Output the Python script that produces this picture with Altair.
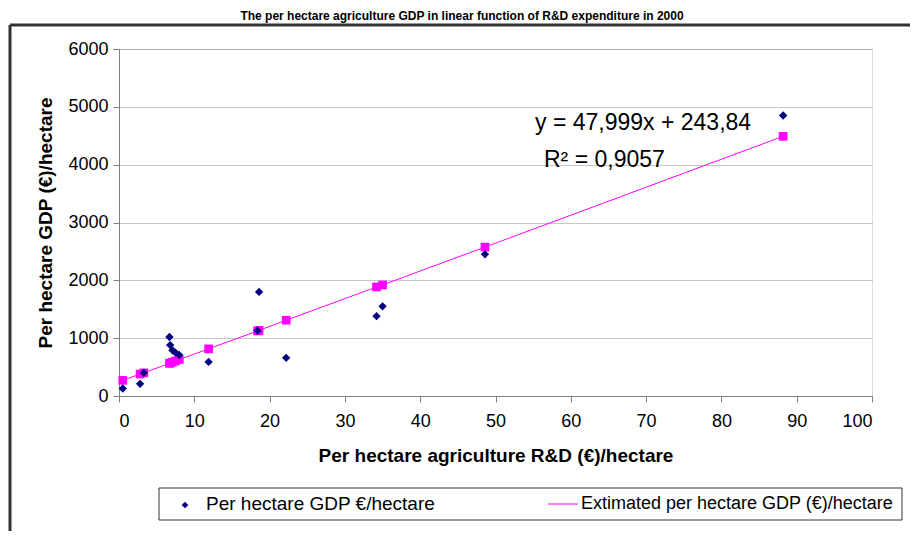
import altair as alt
import pandas as pd

# ---- data ----
rd_per_ha = [0.5, 2.8, 3.3, 6.7, 6.8, 7.1, 7.5, 8.0, 11.9, 18.4, 18.6, 22.2, 34.2, 35.0, 48.6, 88.2]
gdp_per_ha = [130, 210, 400, 1020, 880, 790, 750, 710, 590, 1130, 1800, 660, 1380, 1550, 2450, 4850]
est_gdp_per_ha = [270, 380, 400, 565, 570, 585, 605, 630, 815, 1125, 1135, 1310, 1885, 1920, 2575, 4490]

x_ticks = [0, 10, 20, 30, 40, 50, 60, 70, 80, 90, 100]
y_ticks = [0, 1000, 2000, 3000, 4000, 5000, 6000]

title_text = ["The per hectare agriculture GDP in linear function of R&D expenditure in 2000"]
eq_text = ["y = 47,999x + 243,84"]
r2_text = ["R² = 0,9057"]
legend_labels = ["Per hectare GDP €/hectare", "Extimated per hectare GDP (€)/hectare"]

df = pd.DataFrame({"rd": rd_per_ha, "gdp": gdp_per_ha, "est": est_gdp_per_ha})

FONT = "Liberation Sans"
W, H = 753, 347
NAVY = "#000080"
PINK = "#FF00FF"

xenc = alt.X(
    "rd:Q",
    scale=alt.Scale(domain=[0, 100], nice=False, zero=True),
    axis=alt.Axis(
        values=x_ticks, title="Per hectare agriculture R&D (€)/hectare", grid=False,
        format="d",
        domainColor="#808080", tickColor="#808080", tickSize=6,
        labelFont=FONT, labelFontSize=18, labelColor="black", labelPadding=10,
        titleFont=FONT, titleFontSize=19, titleFontWeight="bold", titleColor="black",
        titlePadding=16,
    ),
)
yscale = alt.Scale(domain=[0, 6000], nice=False)
yaxis = alt.Axis(
    values=y_ticks, title="Per hectare GDP (€)/hectare", grid=True, format="d",
    gridColor="#8c8c8c", gridDash=[1, 1], gridWidth=1,
    domainColor="#808080", tickColor="#808080", tickSize=6,
    labelFont=FONT, labelFontSize=18, labelColor="black", labelPadding=5,
    titleFont=FONT, titleFontSize=19, titleFontWeight="bold", titleColor="black",
    titlePadding=12,
)

base = alt.Chart(df)

line = base.mark_line(color=PINK, strokeWidth=1).encode(
    x=xenc, y=alt.Y("est:Q", scale=yscale, axis=yaxis), order="rd:Q"
)
squares = base.mark_point(shape="square", filled=True, color=PINK, size=75, opacity=1).encode(
    x="rd:Q", y="est:Q"
)
diamonds = base.mark_point(shape="diamond", filled=True, color=NAVY, size=70, opacity=1).encode(
    x="rd:Q", y=alt.Y("gdp:Q", scale=yscale)
)

eq = alt.Chart(pd.DataFrame({"t": eq_text})).mark_text(
    font=FONT, fontSize=23, align="left", baseline="middle", color="black"
).encode(x=alt.value(416), y=alt.value(74), text="t:N")

r2 = alt.Chart(pd.DataFrame({"t": r2_text})).mark_text(
    font=FONT, fontSize=23, align="left", baseline="middle", color="black"
).encode(x=alt.value(425), y=alt.value(111), text="t:N")

title = alt.Chart(pd.DataFrame({"t": title_text})).mark_text(
    font=FONT, fontSize=12, fontWeight="bold", align="center", baseline="alphabetic", color="black"
).encode(x=alt.value(343), y=alt.value(-29), text="t:N")

frame_top = alt.Chart(pd.DataFrame({"a": [0]})).mark_rule(color="#333333", strokeWidth=3).encode(
    x=alt.value(-109), x2=alt.value(791), y=alt.value(-24)
)
frame_left = alt.Chart(pd.DataFrame({"a": [0]})).mark_rule(color="#333333", strokeWidth=3).encode(
    x=alt.value(-109), y=alt.value(-24), y2=alt.value(700)
)

legend_box = alt.Chart(pd.DataFrame({"a": [0]})).mark_rect(
    fill="white", stroke="#333333", strokeWidth=1
).encode(x=alt.value(40), x2=alt.value(783), y=alt.value(439), y2=alt.value(471))

leg_diamond = alt.Chart(pd.DataFrame({"a": [0]})).mark_point(
    shape="diamond", filled=True, color=NAVY, size=45, opacity=1
).encode(x=alt.value(66), y=alt.value(456))

leg_line = alt.Chart(pd.DataFrame({"a": [0]})).mark_rule(color=PINK, strokeWidth=1).encode(
    x=alt.value(429), x2=alt.value(459), y=alt.value(455)
)

leg_text1 = alt.Chart(pd.DataFrame({"t": [legend_labels[0]]})).mark_text(
    font=FONT, fontSize=19, align="left", baseline="middle", color="black"
).encode(x=alt.value(87), y=alt.value(455), text="t:N")

leg_text2 = alt.Chart(pd.DataFrame({"t": [legend_labels[1]]})).mark_text(
    font=FONT, fontSize=18, align="left", baseline="middle", color="black"
).encode(x=alt.value(462), y=alt.value(455), text="t:N")

chart = alt.layer(
    frame_top, frame_left, line, squares, diamonds, eq, r2, title,
    legend_box, leg_diamond, leg_line, leg_text1, leg_text2,
).properties(
    width=W, height=H,
    autosize=alt.AutoSizeParams(type="none"),
    padding={"left": 111, "top": 41, "right": 40, "bottom": 135},
).configure_view(stroke=None).configure(background="white")

chart.save("out.html", embed_options={"renderer": "svg", "actions": False})
